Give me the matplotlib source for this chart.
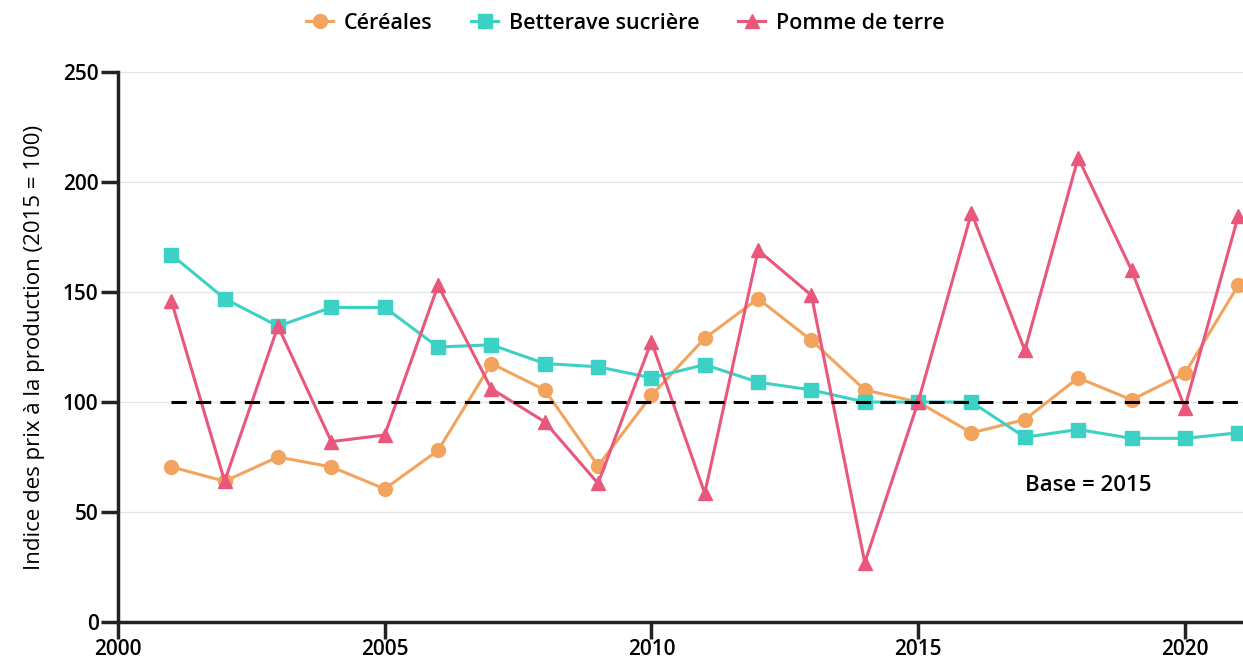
import matplotlib
matplotlib.use('Agg')
import matplotlib.pyplot as plt
import numpy as np

# Indices des prix a la production (2015 = 100)
annees = list(range(2001, 2022))
cereales = [70.5, 64, 75, 70.5, 60.5, 78, 117.5, 105.5, 71, 103, 129,
            147, 128, 105.5, 100, 86, 92, 111, 101, 113, 153]
betterave = [167, 147, 134.5, 143, 143, 125, 126, 117.5, 116, 111, 117,
             109, 105.5, 100, 100, 100, 84, 87.5, 83.5, 83.5, 86]
pomme_de_terre = [146, 64, 134.5, 82, 85, 153, 106, 91, 63, 127.5, 58.5,
                  169, 148.5, 27, 100, 186, 123.5, 211, 160, 97.5, 184.5]

plt.rcParams['font.family'] = ['Open Sans', 'DejaVu Sans']

fig = plt.figure(figsize=(12.43, 6.61), dpi=100)
ax = fig.add_axes([0.0949, 0.059, 0.9051, 0.832])

c_cer = '#F2A35E'
c_bet = '#3DD0C4'
c_pdt = '#E9577D'

ax.plot(annees, cereales, color=c_cer, lw=2.2, marker='o', ms=10, label='Céréales', zorder=3)
ax.plot(annees, betterave, color=c_bet, lw=2.2, marker='s', ms=9.5, label='Betterave sucrière', zorder=3)
ax.plot(annees, pomme_de_terre, color=c_pdt, lw=2.2, marker='^', ms=10, label='Pomme de terre', zorder=3)

# ligne de base
ax.plot([annees[0], annees[-1]], [100, 100], color='black', lw=2.2, ls=(0, (5, 3)), zorder=4)
ax.text(2017, 62, 'Base = 2015', fontsize=16, fontweight='semibold', va='center', ha='left')

ax.set_xlim(2000, 2021.09)
ax.set_ylim(0, 250)
ax.set_xticks([2000, 2005, 2010, 2015, 2020])
ax.set_yticks([0, 50, 100, 150, 200, 250])
ax.yaxis.grid(True, color='#e6e6e6', lw=1)
ax.set_axisbelow(True)

for s in ['top', 'right']:
    ax.spines[s].set_visible(False)
for s in ['left', 'bottom']:
    ax.spines[s].set_linewidth(2.5)
    ax.spines[s].set_color('#222222')
ax.tick_params(axis='both', length=12, width=2.5, color='#222222', labelsize=15)
for lab in ax.get_xticklabels() + ax.get_yticklabels():
    lab.set_fontweight('semibold')
ax.tick_params(axis='x', pad=0)
ax.tick_params(axis='y', pad=2)

ax.set_ylabel('Indice des prix à la production (2015 = 100)', fontsize=16, labelpad=13)

fig.legend(loc='upper center', bbox_to_anchor=(0.503, 1.01), ncol=3, frameon=False,
           prop={'size': 15.5, 'weight': 'semibold'}, handlelength=1.25, columnspacing=1.8,
           handletextpad=0.5)

fig.savefig('out.png', dpi=100)
